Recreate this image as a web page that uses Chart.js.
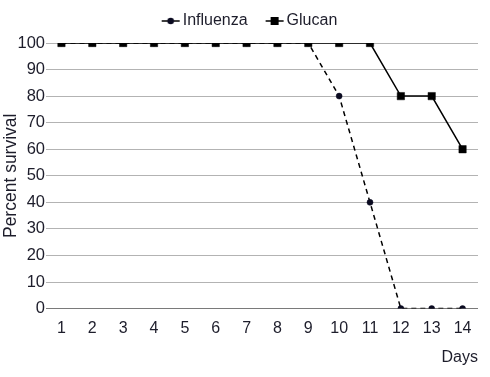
<!DOCTYPE html>
<html>
<head>
<meta charset="utf-8">
<script src="https://cdn.jsdelivr.net/npm/chart.js@4"></script>
<style>
  body { margin: 0; background: #fff; }
  #wrap { width: 490px; height: 377px; }
</style>
</head>
<body>
<div id="wrap"><canvas id="survivalChart"></canvas></div>
<script>
const days = ["1", "2", "3", "4", "5", "6", "7", "8", "9", "10", "11", "12", "13", "14"];
const influenza = [100, 100, 100, 100, 100, 100, 100, 100, 100, 80, 40, 0, 0, 0];
const glucan = [100, 100, 100, 100, 100, 100, 100, 100, 100, 100, 100, 80, 80, 60];
const yTicks = [0, 10, 20, 30, 40, 50, 60, 70, 80, 90, 100];

const textColor = "#1d1d2b";
const fontFamily = "'Liberation Sans', Arial, sans-serif";

// legend icon: short line with the marker in its middle, drawn off-centre
// in a wider canvas so the gaps around it come out right
function legendIcon(kind) {
  const c = document.createElement("canvas");
  c.width = 40;
  c.height = 10;
  const g = c.getContext("2d");
  g.strokeStyle = "#000";
  g.lineWidth = 1.5;
  g.beginPath();
  g.moveTo(15, 5);
  g.lineTo(33, 5);
  g.stroke();
  if (kind === "circle") {
    g.fillStyle = "#0a0a20";
    g.beginPath();
    g.arc(24, 5, 3.3, 0, Math.PI * 2);
    g.fill();
  } else {
    g.fillStyle = "#000";
    g.fillRect(20, 1, 8, 8);
  }
  return c;
}

// nudge the legend right and leave a bit more room under it
const legendTweak = {
  id: "legendTweak",
  beforeLayout(chart) {
    const lg = chart.legend;
    if (lg && !lg._patched) {
      const fit = lg.fit;
      lg.fit = function () {
        fit.apply(this, arguments);
        this.height += 4;
      };
      lg._patched = true;
    }
  },
  afterLayout(chart) {
    chart.legend.left += 8;
    chart.legend.right += 8;
  }
};

document.addEventListener("DOMContentLoaded", () => {
  const ctx = document.getElementById("survivalChart").getContext("2d");
  const icons = [legendIcon("circle"), legendIcon("rect")];

  new Chart(ctx, {
    type: "line",
    data: {
      labels: days,
      datasets: [
        {
          label: "Influenza",
          data: influenza,
          borderColor: "#000",
          borderWidth: 1.5,
          borderDash: [5, 4],
          pointStyle: "circle",
          pointRadius: 3,
          pointBackgroundColor: "#0a0a20",
          pointBorderColor: "#0a0a20",
          pointBorderWidth: 0.5,
          tension: 0,
          order: 1
        },
        {
          label: "Glucan",
          data: glucan,
          borderColor: "#000",
          borderWidth: 1.5,
          pointStyle: "rect",
          pointRadius: 5.2,
          pointBackgroundColor: "#000",
          pointBorderColor: "#000",
          pointBorderWidth: 0.5,
          tension: 0,
          order: 0
        }
      ]
    },
    options: {
      responsive: true,
      maintainAspectRatio: false,
      animation: false,
      layout: { padding: { left: 2, right: 12, top: -2, bottom: 10 } },
      plugins: {
        tooltip: { enabled: false },
        legend: {
          position: "top",
          labels: {
            color: textColor,
            font: { family: fontFamily, size: 16 },
            usePointStyle: true,
            pointStyleWidth: 16,
            padding: 15,
            generateLabels: (chart) => chart.data.datasets.map((ds, i) => ({
              text: ds.label,
              pointStyle: icons[i],
              fillStyle: "transparent",
              strokeStyle: "transparent",
              lineWidth: 0,
              fontColor: textColor,
              hidden: false,
              datasetIndex: i
            }))
          }
        }
      },
      scales: {
        x: {
          offset: true,
          grid: { display: false, drawTicks: false },
          border: { display: false },
          ticks: {
            color: textColor,
            font: { family: fontFamily, size: 16 },
            padding: 10,
            maxRotation: 0
          },
          title: {
            display: true,
            text: "Days",
            align: "end",
            color: textColor,
            font: { family: fontFamily, size: 16 },
            padding: { top: 0, bottom: 0 }
          }
        },
        y: {
          min: 0,
          max: 100,
          afterBuildTicks: (axis) => { axis.ticks = yTicks.map(v => ({ value: v })); },
          grid: {
            drawTicks: false,
            color: (c) => c.tick && c.tick.value === 0 ? "#7a7a7a" : "#b3b3b3",
            lineWidth: 1
          },
          border: { display: false },
          ticks: {
            color: textColor,
            font: { family: fontFamily, size: 16.5 },
            padding: 1
          },
          title: {
            display: true,
            text: "Percent survival",
            color: textColor,
            font: { family: fontFamily, size: 17.5, lineHeight: 1 },
            padding: { top: 0, bottom: -3 }
          }
        }
      }
    },
    plugins: [legendTweak]
  });
});
</script>
</body>
</html>
